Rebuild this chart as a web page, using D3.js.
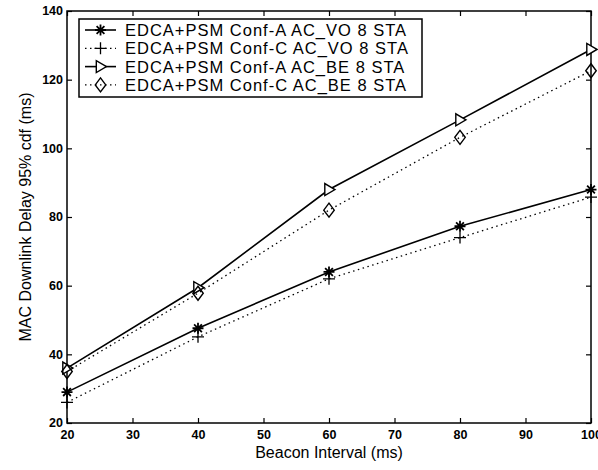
<!DOCTYPE html>
<html>
<head>
<script src="https://d3js.org/d3.v7.min.js"></script>
<style>
  body { margin: 0; background: #fff; }
  text { font-family: "Liberation Sans", Arial, sans-serif; fill: #000; }
</style>
</head>
<body>
<div id="chart"></div>
<script>
// beacon interval (ms)
var beacon = [20, 40, 60, 80, 100];
var confA_VO = [29, 47.6, 64, 77.3, 88];
var confC_VO = [26, 45.1, 62, 74, 85.8];
var confA_BE = [36, 59.4, 88, 108.3, 128.8];
var confC_BE = [35, 57.8, 82, 103.2, 122.6];
var seriesNames = ["EDCA+PSM Conf-A AC_VO 8 STA", "EDCA+PSM Conf-C AC_VO 8 STA",
                   "EDCA+PSM Conf-A AC_BE 8 STA", "EDCA+PSM Conf-C AC_BE 8 STA"];
var xTicks = [20, 30, 40, 50, 60, 70, 80, 90, 100];
var yTicks = [20, 40, 60, 80, 100, 120, 140];

var W = 598, H = 470;
var pL = 67, pR = 591, pT = 11, pB = 423;

var svg = d3.select("#chart").append("svg")
    .attr("width", W).attr("height", H);

var x = d3.scaleLinear().domain([20, 100]).range([pL, pR]);
var y = d3.scaleLinear().domain([20, 140]).range([pB, pT]);

// frame
svg.append("rect")
    .attr("x", pL).attr("y", pT)
    .attr("width", pR - pL).attr("height", pB - pT)
    .attr("fill", "none").attr("stroke", "#000").attr("stroke-width", 1.5);

// ticks, all pointing inward (matlab box style)
var tl = 5;
var bx = svg.append("g").attr("transform", "translate(0," + pB + ")")
    .call(d3.axisBottom(x).tickValues(xTicks).tickSizeInner(-tl).tickSizeOuter(0).tickPadding(5));
var tx = svg.append("g").attr("transform", "translate(0," + pT + ")")
    .call(d3.axisTop(x).tickValues(xTicks).tickSizeInner(-tl).tickSizeOuter(0).tickFormat(""));
var ly = svg.append("g").attr("transform", "translate(" + pL + ",0)")
    .call(d3.axisLeft(y).tickValues(yTicks).tickSizeInner(-tl).tickSizeOuter(0).tickPadding(4));
var ry = svg.append("g").attr("transform", "translate(" + pR + ",0)")
    .call(d3.axisRight(y).tickValues(yTicks).tickSizeInner(-tl).tickSizeOuter(0).tickFormat(""));
[bx, tx, ly, ry].forEach(function (g) {
  g.select(".domain").remove();
  g.selectAll(".tick line").attr("stroke", "#000").attr("stroke-width", 1.2);
  g.selectAll("text").style("font-size", "12.5px").style("font-weight", "bold")
    .style("font-family", "'Liberation Sans', Arial, sans-serif");
});
bx.selectAll("text").attr("dy", "0.9em");
ly.selectAll("text").attr("dy", "0.3em");

// axis titles
svg.append("text")
    .attr("x", (pL + pR) / 2).attr("y", 458)
    .attr("text-anchor", "middle")
    .style("font-size", "16px")
    .text("Beacon Interval (ms)");
svg.append("text")
    .attr("transform", "translate(31," + (pT + pB) / 2 + ") rotate(-90)")
    .attr("text-anchor", "middle")
    .style("font-size", "16px")
    .text("MAC Downlink Delay 95% cdf (ms)");

// marker drawers
function star(g, s) {
  var p = "";
  for (var k = 0; k < 4; k++) {
    var a = k * Math.PI / 4;
    p += "M" + (-s * Math.cos(a)) + "," + (-s * Math.sin(a)) + "L" + (s * Math.cos(a)) + "," + (s * Math.sin(a));
  }
  g.append("path").attr("d", p).attr("stroke", "#000").attr("stroke-width", 1.8).attr("fill", "none");
}
function plus(g, s) {
  g.append("path").attr("d", "M" + (-s) + ",0L" + s + ",0M0," + (-s) + "L0," + s)
    .attr("stroke", "#000").attr("stroke-width", 1.3).attr("fill", "none");
}
function triRight(g, s) {
  g.append("path").attr("d", "M" + s + ",0L" + (-s * 0.7) + "," + (-s) + "L" + (-s * 0.7) + "," + s + "Z")
    .attr("stroke", "#000").attr("stroke-width", 1.4).attr("fill", "#fff");
}
function diamond(g, s) {
  g.append("path").attr("d", "M0," + (-s) + "L" + (s * 0.75) + ",0L0," + s + "L" + (-s * 0.75) + ",0Z")
    .attr("stroke", "#000").attr("stroke-width", 1.4).attr("fill", "none");
}

var series = [
  { vals: confA_VO, dash: null, w: 1.6, mark: star, ms: 5.5 },
  { vals: confC_VO, dash: "1.5,3.5", w: 1.3, mark: plus, ms: 6 },
  { vals: confA_BE, dash: null, w: 1.6, mark: triRight, ms: 6 },
  { vals: confC_BE, dash: "1.5,3.5", w: 1.3, mark: diamond, ms: 7 }
];

var line = d3.line().x(function (d) { return x(d[0]); }).y(function (d) { return y(d[1]); });

series.forEach(function (s) {
  var pts = beacon.map(function (b, i) { return [b, s.vals[i]]; });
  svg.append("path").datum(pts)
    .attr("d", line)
    .attr("fill", "none").attr("stroke", "#000")
    .attr("stroke-width", s.w)
    .attr("stroke-dasharray", s.dash);
});
series.forEach(function (s) {
  beacon.forEach(function (b, i) {
    var g = svg.append("g").attr("transform", "translate(" + x(b) + "," + y(s.vals[i]) + ")");
    s.mark(g, s.ms);
  });
});

// legend
var lg = svg.append("g");
lg.append("rect")
    .attr("x", 79).attr("y", 19).attr("width", 343).attr("height", 78)
    .attr("fill", "#fff").attr("stroke", "#000").attr("stroke-width", 1.5);
series.forEach(function (s, i) {
  var yy = 30 + i * 18.3;
  lg.append("line").attr("x1", 85).attr("x2", 116).attr("y1", yy).attr("y2", yy)
    .attr("stroke", "#000").attr("stroke-width", s.w).attr("stroke-dasharray", s.dash);
  var g = lg.append("g").attr("transform", "translate(100.5," + yy + ")");
  s.mark(g, s.ms);
  lg.append("text").attr("x", 125).attr("y", yy).attr("dy", "0.36em")
    .style("font-size", "16.5px")
    .style("letter-spacing", "1px")
    .text(seriesNames[i]);
});
</script>
</body>
</html>
